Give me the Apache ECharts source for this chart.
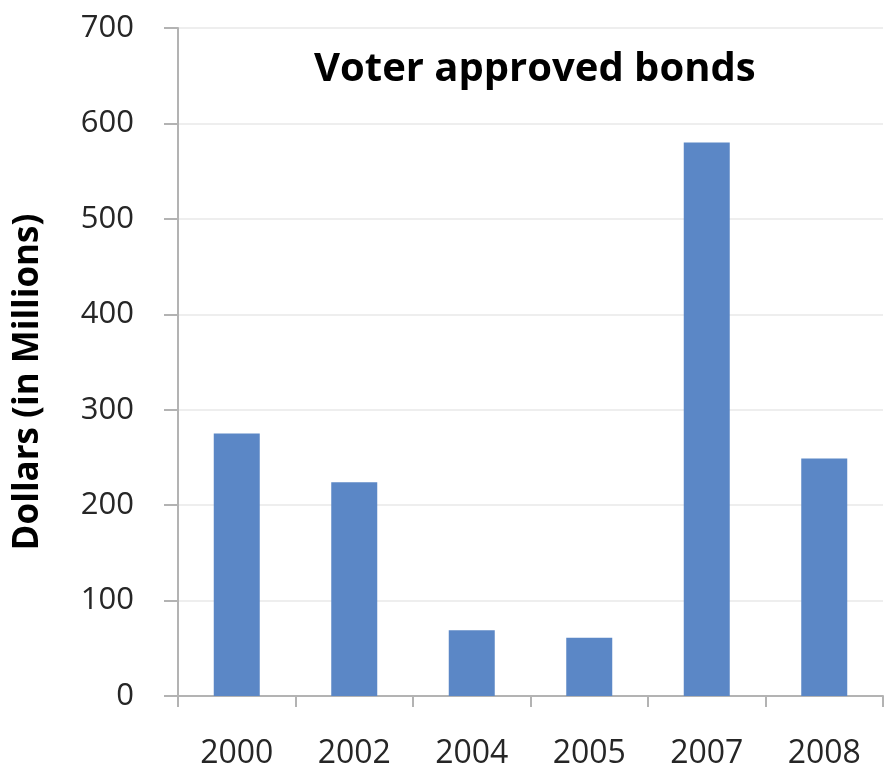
<!DOCTYPE html>
<html>
<head>
<meta charset="utf-8">
<script src="https://cdn.jsdelivr.net/npm/echarts@6/dist/echarts.min.js"></script>
<style>
html,body{margin:0;padding:0;background:#fff;}
#chart{width:885px;height:772px;}
</style>
</head>
<body>
<div id="chart"></div>
<script>
const categories = ['2000', '2002', '2004', '2005', '2007', '2008'];
const bondValues = [275, 224, 69, 61, 580, 249];
const yTicks = { min: 0, max: 700, interval: 100 };
const titleText = 'Voter approved bonds';
const yAxisTitle = 'Dollars (in Millions)';

const chart = echarts.init(document.getElementById('chart'), null, { renderer: 'canvas' });
const FONT = '"Open Sans", "Liberation Sans", sans-serif';
chart.setOption({
  animation: false,
  backgroundColor: '#ffffff',
  title: {
    text: titleText,
    left: 314,
    top: 50,
    padding: 0,
    textStyle: { fontFamily: FONT, fontWeight: 'bold', fontSize: 40, color: '#000000' }
  },
  graphic: [{
    type: 'text',
    x: 28,
    y: 382,
    rotation: Math.PI / 2,
    style: {
      text: yAxisTitle,
      fontFamily: FONT,
      fontWeight: 'bold',
      fontSize: 35,
      fill: '#000000',
      align: 'center',
      verticalAlign: 'middle'
    }
  }],
  grid: { left: 178, right: 2, top: 28, bottom: 76, containLabel: false },
  xAxis: {
    type: 'category',
    data: categories,
    boundaryGap: true,
    axisLine: { show: true, lineStyle: { color: '#b3b3b3', width: 2 } },
    axisTick: { show: true, alignWithLabel: false, length: 11, lineStyle: { color: '#b3b3b3', width: 2 } },
    axisLabel: { fontFamily: FONT, fontSize: 32, color: '#262626', margin: 42 },
    splitLine: { show: false }
  },
  yAxis: {
    type: 'value',
    min: yTicks.min,
    max: yTicks.max,
    interval: yTicks.interval,
    axisLine: { show: true, lineStyle: { color: '#b3b3b3', width: 2 } },
    axisTick: { show: true, inside: false, length: 14, lineStyle: { color: '#b3b3b3', width: 2 } },
    axisLabel: { fontFamily: FONT, fontSize: 31, color: '#262626', margin: 44 },
    splitLine: { show: true, lineStyle: { color: '#e8e8e8', width: 1.5 } }
  },
  series: [{
    type: 'bar',
    data: bondValues,
    barWidth: 46,
    itemStyle: { color: '#5b87c6' }
  }]
});
</script>
</body>
</html>
